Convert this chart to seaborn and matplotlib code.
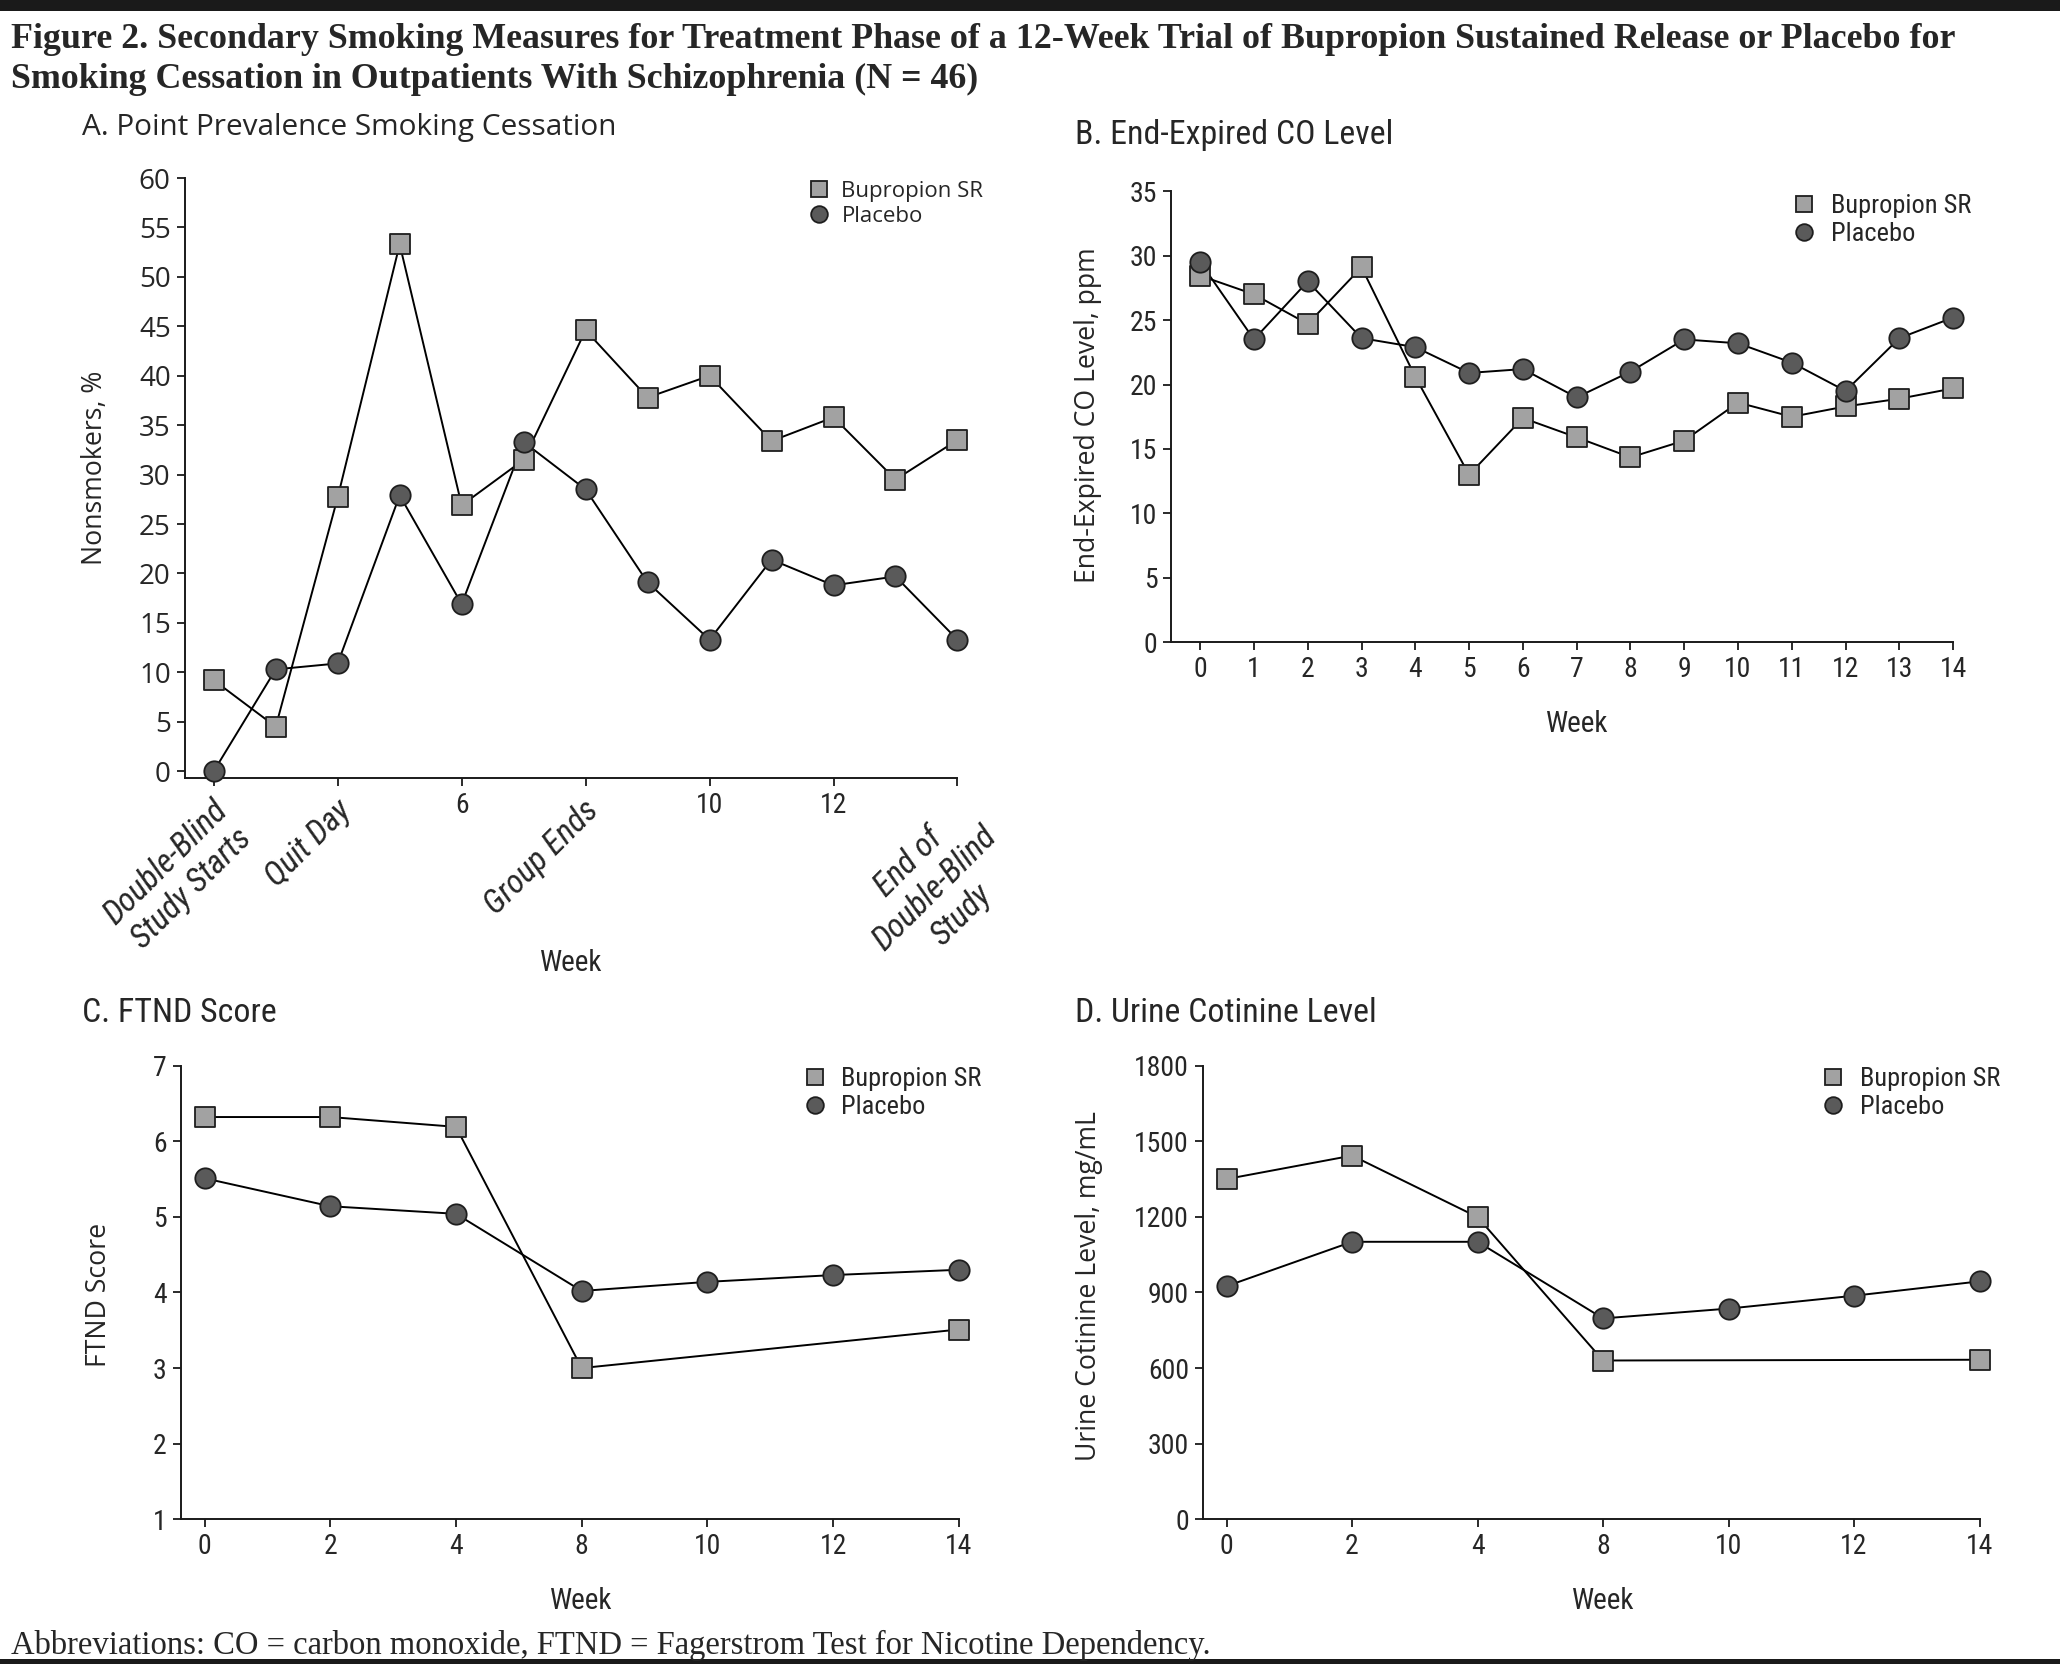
import numpy as np
import pandas as pd
import seaborn as sns
import matplotlib.pyplot as plt
from matplotlib.lines import Line2D
from matplotlib.patches import Rectangle
from matplotlib.transforms import ScaledTranslation
from matplotlib import font_manager

# ---- data ----
# A. point prevalence smoking cessation (%)
weeks_a = [2, 3, 4, 5, 6, 7, 8, 9, 10, 11, 12, 13, 14]
bup_a = [9.2, 4.5, 27.7, 53.3, 26.9, 31.5, 44.6, 37.8, 40.0, 33.4, 35.8, 29.5, 33.5]
plc_a = [0.0, 10.3, 10.9, 27.9, 16.9, 33.3, 28.5, 19.1, 13.3, 21.4, 18.8, 19.7, 13.3]
ticks_a = [2, 4, 6, 8, 10, 12, 14]
ticklabels_a = ["Double-Blind\nStudy Starts", "Quit Day", "6", "Group Ends", "10", "12",
                "End of\nDouble-Blind\nStudy"]

# B. end-expired CO (ppm)
weeks_b = list(range(15))
bup_b = [28.45, 27.0, 24.7, 29.1, 20.6, 13.0, 17.4, 15.9, 14.35, 15.65, 18.6, 17.5, 18.3, 18.9, 19.7]
plc_b = [29.5, 23.5, 28.0, 23.6, 22.9, 20.9, 21.2, 19.0, 21.0, 23.5, 23.2, 21.7, 19.5, 23.6, 25.2]

# C. FTND score (visits are evenly spaced on the axis)
visits_cd = [0, 2, 4, 8, 10, 12, 14]
weeks_c_bup = [0, 2, 4, 8, 14]
bup_c = [6.32, 6.32, 6.19, 3.0, 3.51]
weeks_c_plc = [0, 2, 4, 8, 10, 12, 14]
plc_c = [5.51, 5.14, 5.04, 4.02, 4.14, 4.23, 4.30]

# D. urine cotinine (mg/mL)
weeks_d_bup = [0, 2, 4, 8, 14]
bup_d = [1350, 1443, 1199, 630, 633]
weeks_d_plc = [0, 2, 4, 8, 10, 12, 14]
plc_d = [925, 1101, 1101, 797, 836, 887, 944]

groups = ["Bupropion SR", "Placebo"]
face = {"Bupropion SR": "#a2a2a2", "Placebo": "#5a5a5a"}
marks = {"Bupropion SR": "s", "Placebo": "o"}
edge = "#1e1e1e"

sns.set_style("ticks")
fonts = font_manager.fontManager.ttflist
names = {f.name for f in fonts}
NARROW, STRETCH = "Roboto", "normal"
for cand in ["Liberation Sans Narrow", "Roboto Condensed", "Open Sans Condensed",
             "Noto Sans Condensed", "DejaVu Sans Condensed"]:
    if cand in names:
        NARROW = cand
        break
else:
    if any(f.name == "DejaVu Sans" and f.stretch in ("condensed", "semi-condensed") for f in fonts):
        NARROW, STRETCH = "DejaVu Sans", "condensed"
WIDE = "Open Sans"
SERIF = "Liberation Serif"
plt.rcParams["font.family"] = [WIDE, "DejaVu Sans"]
NF = {"family": NARROW, "stretch": STRETCH}

W, H = 1562, 1264
fig = plt.figure(figsize=(20.6, 16.67), dpi=100)


def fx(x):
    return x / W


def fy(y):
    return 1 - y / H


def rect(l, r, t, b):
    return [fx(l), fy(b), fx(r) - fx(l), fy(t) - fy(b)]


def draw(ax, wb, yb, wp, yp):
    df = pd.concat([
        pd.DataFrame({"Week": wb, "Value": yb, "Group": groups[0]}),
        pd.DataFrame({"Week": wp, "Value": yp, "Group": groups[1]}),
    ])
    sns.lineplot(data=df, x="Week", y="Value", hue="Group",
                 palette={g: "black" for g in groups}, lw=1.4, legend=False,
                 ax=ax, zorder=2, sort=True)
    for g in groups:
        sub = df[df.Group == g]
        sns.scatterplot(data=sub, x="Week", y="Value", marker=marks[g], color=face[g],
                        s=200 if g == groups[0] else 215, edgecolor=edge, linewidth=1.3,
                        legend=False, ax=ax, zorder=3, clip_on=False)
    sns.despine(ax=ax)
    for s in ["left", "bottom"]:
        ax.spines[s].set_linewidth(1.4)
        ax.spines[s].set_color("#1a1a1a")
    ax.tick_params(direction="out", length=6, width=1.3, color="#1a1a1a", pad=4)
    ax.set_xlabel("")
    ax.set_ylabel("")


def legend(ax, x, y, fontprops):
    h = [Line2D([], [], ls="none", marker=marks[g], markerfacecolor=face[g],
                markeredgecolor=edge, markeredgewidth=1.3, markersize=12) for g in groups]
    ax.legend(h, groups, loc="upper left", bbox_to_anchor=(fx(x), fy(y)),
              bbox_transform=fig.transFigure, frameon=False, borderpad=0,
              handlelength=0.8, handletextpad=0.6, labelspacing=0.15, prop=fontprops)


def ticklabel_font(ax, size):
    for lab in ax.get_xticklabels() + ax.get_yticklabels():
        lab.set_family(NARROW)
        lab.set_stretch(STRETCH)
        lab.set_fontsize(size)


def visit_pos(weeks):
    return [visits_cd.index(w) for w in weeks]


# ---- panel A ----
axA = fig.add_axes(rect(140, 726, 135, 590))
draw(axA, weeks_a, bup_a, weeks_a, plc_a)
axA.set_xlim(1.53, 14)
axA.set_ylim(-0.7, 60)
axA.set_yticks(range(0, 61, 5))
axA.set_xticks(ticks_a)
axA.set_xticklabels(ticklabels_a)
for lab in axA.get_yticklabels():
    lab.set_family(WIDE)
    lab.set_fontsize(20)
shift = ScaledTranslation(-2 / 72, -2 / 72, fig.dpi_scale_trans)
for lab in axA.get_xticklabels():
    lab.set_family(NARROW)
    lab.set_stretch(STRETCH)
    lab.set_fontsize(20)
    if not lab.get_text().isdigit():
        lab.set_fontsize(24)
        lab.set_rotation(45)
        lab.set_ha("right")
        lab.set_va("top")
        lab.set_rotation_mode("anchor")
        lab.set_fontstyle("italic")
        lab.set_multialignment("center")
        lab.set_transform(lab.get_transform() + shift)
legend(axA, 606, 129, {"family": WIDE, "size": 16})

# ---- panel B ----
axB = fig.add_axes(rect(888, 1481, 145, 487))
draw(axB, weeks_b, bup_b, weeks_b, plc_b)
axB.set_xlim(-0.54, 14)
axB.set_ylim(0, 35)
axB.set_yticks(range(0, 36, 5))
axB.set_xticks(weeks_b)
ticklabel_font(axB, 20)
legend(axB, 1350, 137, {**NF, "size": 19})

# ---- panel C ----
axC = fig.add_axes(rect(137, 727, 808, 1152))
draw(axC, visit_pos(weeks_c_bup), bup_c, visit_pos(weeks_c_plc), plc_c)
axC.set_xlim(-0.19, 6)
axC.set_ylim(1, 7)
axC.set_yticks(range(1, 8))
axC.set_xticks(range(len(visits_cd)))
axC.set_xticklabels([str(v) for v in visits_cd])
ticklabel_font(axC, 20)
legend(axC, 600, 799, {**NF, "size": 19})

# ---- panel D ----
axD = fig.add_axes(rect(912, 1501, 808, 1152))
draw(axD, visit_pos(weeks_d_bup), bup_d, visit_pos(weeks_d_plc), plc_d)
axD.set_xlim(-0.19, 6)
axD.set_ylim(0, 1800)
axD.set_yticks(range(0, 1801, 300))
axD.set_xticks(range(len(visits_cd)))
axD.set_xticklabels([str(v) for v in visits_cd])
ticklabel_font(axD, 20)
legend(axD, 1372, 799, {**NF, "size": 19})

# ---- text ----
fig.text(fx(8), fy(30), "Figure 2. Secondary Smoking Measures for Treatment Phase of a 12-Week Trial of "
         "Bupropion Sustained Release or Placebo for", family=SERIF, weight="bold", size=25.8,
         ha="left", va="center")
fig.text(fx(8), fy(60), "Smoking Cessation in Outpatients With Schizophrenia (N = 46)",
         family=SERIF, weight="bold", size=25.8, ha="left", va="center")

fig.text(fx(62), fy(97), "A. Point Prevalence Smoking Cessation", family=WIDE, size=21.4,
         ha="left", va="center")
for x, y, t in [(815, 102, "B. End-Expired CO Level"), (62, 768, "C. FTND Score"),
                (815, 768, "D. Urine Cotinine Level")]:
    fig.text(fx(x), fy(y), t, size=24.4, ha="left", va="center", **NF)

ylabs = [(72, 355, "Nonsmokers, %"), (825, 315, "End-Expired CO Level, ppm"),
         (75, 982, "FTND Score"), (826, 975, "Urine Cotinine Level, mg/mL")]
for x, y, t in ylabs:
    fig.text(fx(x), fy(y), t, family=WIDE, size=19.2, rotation=90, ha="center", va="center")

for x, y in [(433, 730), (1196, 549), (441, 1214), (1216, 1214)]:
    fig.text(fx(x), fy(y), "Week", size=21, ha="center", va="center", **NF)

fig.text(fx(8), fy(1248), "Abbreviations: CO = carbon monoxide, FTND = Fagerstrom Test for Nicotine Dependency.",
         family=SERIF, size=23.5, ha="left", va="center")

fig.patches.append(Rectangle((0, fy(8)), 1, fy(0) - fy(8), transform=fig.transFigure,
                             facecolor="#1a1a1a", edgecolor="none"))
fig.patches.append(Rectangle((0, 0.002), 1, 0.0025, transform=fig.transFigure,
                             facecolor="#1a1a1a", edgecolor="none"))

fig.savefig("out.png", dpi=100, facecolor="white")
